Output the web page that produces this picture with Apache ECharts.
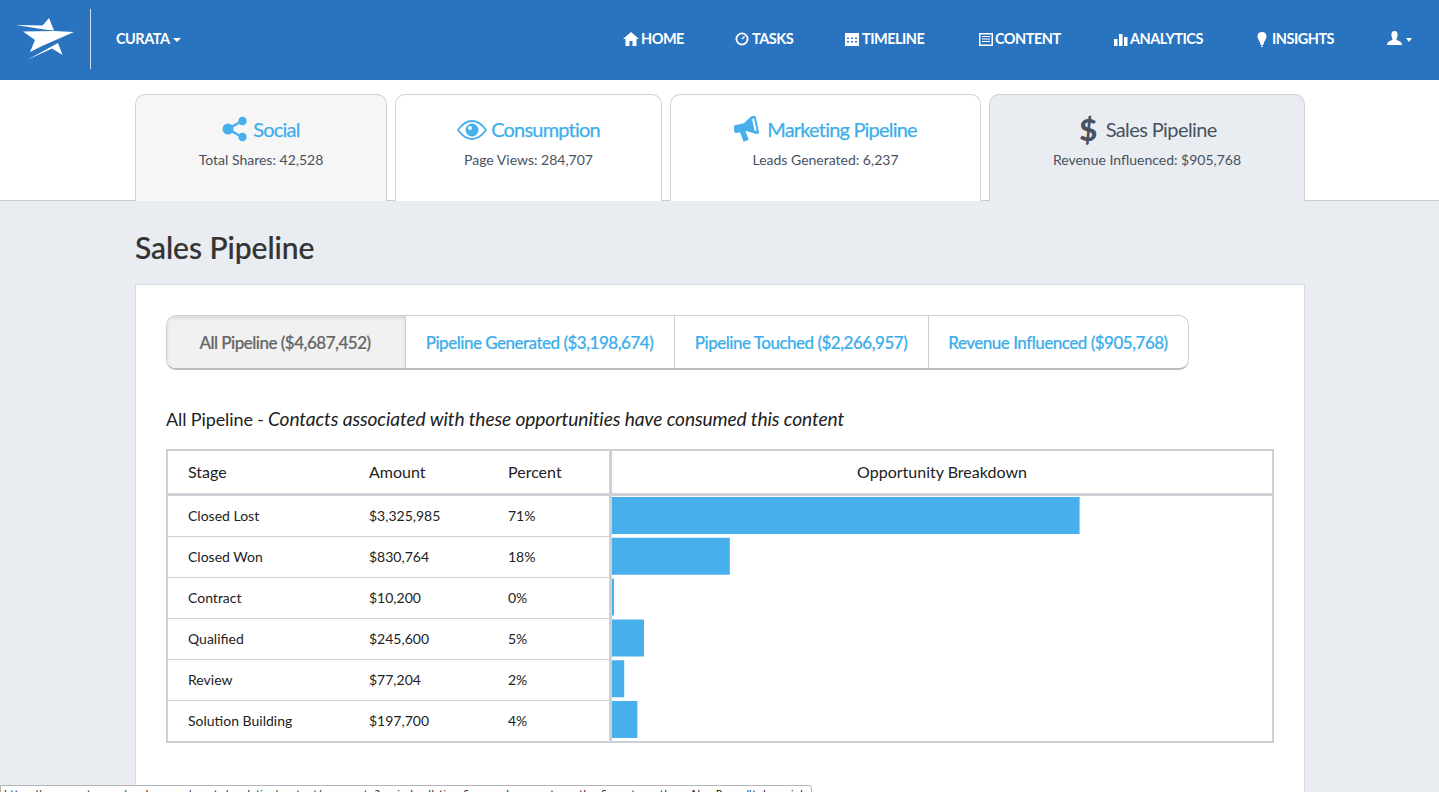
<!DOCTYPE html>
<html>
<head>
<meta charset="utf-8">
<title>Sales Pipeline</title>
<script src="https://cdn.jsdelivr.net/npm/echarts@6/dist/echarts.min.js"></script>
<style>
html, body { margin: 0; padding: 0; width: 1439px; height: 792px; overflow: hidden; background: #fff; font-family: Lato, sans-serif; }
.abs, .abs *, .tab, .tab * { box-sizing: border-box; }
.abs { position: absolute; }
#nav { left: 0; top: 0; width: 1439px; height: 80px; background: #2a73bf; }
.navitem { position: absolute; top: 30px; height: 18px; color: #fff; font-size: 14.5px; font-weight: 700; line-height: 18px; letter-spacing: -0.5px; white-space: nowrap; }
.navitem svg { position: absolute; left: 0; top: 1px; }
.caret { position: absolute; width: 0; height: 0; border-left: 4px solid transparent; border-right: 4px solid transparent; border-top: 4px solid #fff; }
#page { left: 0; top: 200px; width: 1439px; height: 592px; background: #e9ecf1; border-top: 1px solid #ccc; }
.tab { position: absolute; top: 94px; height: 107px; border: 1px solid #d2d2d2; border-bottom: 0; border-radius: 10px 10px 0 0; background: #fff; text-align: center; }
.tab .ttl { position: absolute; top: 21px; left: 0; right: 0; height: 26px; line-height: 26px; font-size: 20px; color: #3eaeea; letter-spacing: -0.8px; -webkit-text-stroke: 0.25px; }
.tab .sub { position: absolute; top: 56px; left: 0; right: 0; line-height: 18px; font-size: 14px; color: #48525f; letter-spacing: 0; }
.tab .ttl svg { vertical-align: -5px; margin-right: 5px; }
#panel { left: 135px; top: 284px; width: 1170px; height: 510px; background: #fff; border: 1px solid #d8dbdf; }
#heading { left: 135px; top: 228px; font-size: 30px; line-height: 38px; color: #333; font-weight: 500; letter-spacing: -0.05px; -webkit-text-stroke: 0.2px; }
#pills { left: 166px; top: 315px; width: 1023px; height: 55px; border: 1px solid #cfcfcf; border-bottom: 2px solid #b9bbbd; border-radius: 10px; background: #fff; overflow: hidden; }
.pill { position: absolute; top: 0; height: 53px; line-height: 53px; text-align: center; font-size: 17px; color: #3eaeea; font-weight: 500; letter-spacing: -0.5px; border-left: 1px solid #cfcfcf; padding-right: 2px; white-space: nowrap; -webkit-text-stroke: 0.2px; }
#subhead { left: 166px; top: 407px; font-size: 18px; line-height: 24px; color: #222; letter-spacing: -0.1px; white-space: nowrap; }
#subhead i { position: absolute; left: 102px; top: 0; font-size: 19.2px; letter-spacing: -0.12px; }
#tbl { left: 166px; top: 449px; width: 1108px; height: 294px; border: 2px solid #cdd0d4; background: #fff; }
.hline { position: absolute; background: #cdd0d4; }
.th { position: absolute; top: 11px; line-height: 20px; font-size: 16px; color: #222; white-space: nowrap; }
#chart { left: 166px; top: 449px; width: 1108px; height: 294px; }
#status { left: 0; top: 785px; width: 812px; height: 12px; background: #fff; border: 1px solid #b5b5b5; border-radius: 0 3px 0 0; font-family: "DejaVu Sans", sans-serif; font-size: 10.4px; line-height: 12px; color: #111; padding: 2px 0 0 3px; white-space: nowrap; overflow: hidden; }
</style>
</head>
<body>

<div class="abs" id="page"></div>

<div class="abs" id="nav">
  <svg style="position:absolute;left:0;top:0" width="90" height="80" viewBox="0 0 90 80">
    <polygon fill="#fff" points="16,25 42,25.5 44,24 49,18 54,30.5 44,29.5"/>
    <polygon fill="#fff" points="23,31.5 54,31 74,32 42,46 30,52 35,40"/>
    <polygon fill="#fff" points="27,60 58,43 62.5,55 52,48.5"/>
  </svg>
  <div style="position:absolute;left:90px;top:9px;width:1px;height:60px;background:#c9dcf0"></div>
  <div class="navitem" style="left:116px">CURATA</div>
  <div class="caret" style="left:173px;top:38px"></div>

  <div class="navitem" style="left:623px;padding-left:18px">HOME
    <svg width="16" height="16" viewBox="0 0 16 16"><path fill="#fff" d="M8 1 L16 8 L13.5 8 L13.5 15 L9.5 15 L9.5 10 L6.5 10 L6.5 15 L2.5 15 L2.5 8 L0 8 Z"/></svg></div>
  <div class="navitem" style="left:735px;padding-left:17px">TASKS
    <svg width="14" height="16" viewBox="0 0 14 16"><circle cx="7" cy="8" r="5.6" fill="none" stroke="#fff" stroke-width="1.8"/><path d="M7 8 L9.5 5.5" stroke="#fff" stroke-width="1.4"/></svg></div>
  <div class="navitem" style="left:845px;padding-left:17px">TIMELINE
    <svg width="14" height="16" viewBox="0 0 14 16"><path fill="#fff" d="M0 2 H14 V15 H0 Z M2 6.5 V8 H4 V6.5 Z M6 6.5 V8 H8 V6.5 Z M10 6.5 V8 H12 V6.5 Z M2 10 V11.5 H4 V10 Z M6 10 V11.5 H8 V10 Z M10 10 V11.5 H12 V10 Z" fill-rule="evenodd"/></svg></div>
  <div class="navitem" style="left:979px;padding-left:16px">CONTENT
    <svg width="14" height="16" viewBox="0 0 14 16"><path fill="#fff" fill-rule="evenodd" d="M0 2 H14 V15 H0 Z M1.5 3.5 V13.5 H12.5 V3.5 Z M3 5 H11 V6 H3 Z M3 7.5 H11 V8.5 H3 Z M3 10 H11 V11 H3 Z"/></svg></div>
  <div class="navitem" style="left:1114px;padding-left:16px">ANALYTICS
    <svg width="14" height="16" viewBox="0 0 14 16"><path fill="#fff" d="M0 8 H3.5 V15 H0 Z M5 3 H8.5 V15 H5 Z M10 6 H13.5 V15 H10 Z"/></svg></div>
  <div class="navitem" style="left:1257px;padding-left:15px">INSIGHTS
    <svg width="10" height="17" viewBox="0 0 10 17"><path fill="#fff" d="M5 1 C8 1 9.5 3 9.5 5.5 C9.5 8 7 10 6.3 14 L3.7 14 C3 10 .5 8 .5 5.5 C.5 3 2 1 5 1 Z"/><rect x="4" y="14.5" width="2" height="1.5" fill="#cfe0f2"/></svg></div>
  <svg style="position:absolute;left:1387px;top:30px" width="15" height="16" viewBox="0 0 15 16"><path fill="#fff" d="M7.5 1 C10 1 10.8 3 10.6 5.5 C10.4 7.5 9.5 8.5 9.3 9.5 C10 10.5 15 11 15 15 L0 15 C0 11 5 10.5 5.7 9.5 C5.5 8.5 4.6 7.5 4.4 5.5 C4.2 3 5 1 7.5 1 Z"/></svg>
  <div class="caret" style="left:1406px;top:38px;border-width:4px 3.5px 0 3.5px"></div>
</div>

<div class="tab" style="left:135px;width:252px;background:#f6f6f6">
  <div class="ttl"><svg width="26" height="26" viewBox="0 0 26 26"><path d="M20 5 L6 13 L20 21" fill="none" stroke="#47b0ec" stroke-width="2.4"/><circle cx="20.5" cy="5" r="4.2" fill="#47b0ec"/><circle cx="6" cy="13" r="5.5" fill="#47b0ec"/><circle cx="20.5" cy="21" r="4.2" fill="#47b0ec"/></svg>Social</div>
  <div class="sub">Total Shares: 42,528</div>
</div>
<div class="tab" style="left:395px;width:267px">
  <div class="ttl"><svg width="30" height="20" viewBox="0 0 30 20" style="vertical-align:-3px;margin-right:4px"><path d="M1 10 C6 3 10 1 15 1 C20 1 24 3 29 10 C24 17 20 19 15 19 C10 19 6 17 1 10 Z" fill="none" stroke="#47b0ec" stroke-width="1.8"/><circle cx="15" cy="10" r="6.5" fill="#47b0ec"/><circle cx="13" cy="8" r="2" fill="#fff"/></svg>Consumption</div>
  <div class="sub">Page Views: 284,707</div>
</div>
<div class="tab" style="left:670px;width:311px">
  <div class="ttl"><svg width="28" height="26" viewBox="0 0 28 26"><g transform="rotate(-12 12 13)"><path fill="#47b0ec" d="M0 9 C0 8 1 7 2 7 L11 7 L21 1 L24 1 L24 20 L21 20 L12 15 L11 15 L12.5 24 L7 25 L5.5 15 L2 15 C1 15 0 14 0 13 Z"/><path fill="#fff" d="M20 5 L22 3.5 L22 17.5 L20 16 Z"/></g></svg>Marketing Pipeline</div>
  <div class="sub">Leads Generated: 6,237</div>
</div>
<div class="tab" style="left:989px;width:316px;background:#e9ecf1;height:108px">
  <div class="ttl" style="color:#48525f;-webkit-text-stroke:0;letter-spacing:-0.6px;padding-left:2px"><span style="font-size:31px;font-weight:900;vertical-align:-4px;margin-right:9px;line-height:26px">$</span>Sales Pipeline</div>
  <div class="sub">Revenue Influenced: $905,768</div>
</div>

<div class="abs" id="heading">Sales Pipeline</div>
<div class="abs" id="panel"></div>

<div class="abs" id="pills">
  <div class="pill" style="left:0;width:238px;background:#f1f1f1;color:#666;border-left:0;box-shadow:inset 0 2px 4px rgba(0,0,0,.12)">All Pipeline ($4,687,452)</div>
  <div class="pill" style="left:238px;width:270px">Pipeline Generated ($3,198,674)</div>
  <div class="pill" style="left:507px;width:255px">Pipeline Touched ($2,266,957)</div>
  <div class="pill" style="left:761px;width:261px">Revenue Influenced ($905,768)</div>
</div>

<div class="abs" id="subhead">All Pipeline - <i>Contacts associated with these opportunities have consumed this content</i></div>

<div class="abs" id="tbl">
  <div class="th" style="left:20px">Stage</div>
  <div class="th" style="left:201px">Amount</div>
  <div class="th" style="left:340px">Percent</div>
  <div class="th" style="left:444px;width:660px;text-align:center">Opportunity Breakdown</div>
  <div class="hline" style="left:0;top:42px;width:1104px;height:3px"></div>
  <div class="hline" style="left:0;top:85px;width:441px;height:1px"></div>
  <div class="hline" style="left:0;top:126px;width:441px;height:1px"></div>
  <div class="hline" style="left:0;top:167px;width:441px;height:1px"></div>
  <div class="hline" style="left:0;top:208px;width:441px;height:1px"></div>
  <div class="hline" style="left:0;top:249px;width:441px;height:1px"></div>
</div>

<div class="abs" id="chart"></div>
<!-- column rule sits over the chart, bars start under it -->
<div class="abs hline" style="left:609px;top:451px;width:3px;height:290px"></div>

<div class="abs" id="status">https://app.curata.com/workspaces/curata/analytics/content/aggregate?period=all_time&amp;group_by=curata_author&amp;curata_author=Alex Perez#tab-social</div>

<script>
var stages = ['Closed Lost', 'Closed Won', 'Contract', 'Qualified', 'Review', 'Solution Building'];
var amounts = ['$3,325,985', '$830,764', '$10,200', '$245,600', '$77,204', '$197,700'];
var percents = [71, 18, 0, 5, 2, 4];

var chartDom = document.getElementById('chart');
var chart = echarts.init(chartDom, null, { renderer: 'svg' });

var option = {
  animation: false,
  backgroundColor: 'transparent',
  grid: { left: 445, top: 46, width: 660, height: 245 },
  xAxis: { type: 'value', min: 0, max: 100, show: false },
  yAxis: {
    type: 'category',
    inverse: true,
    data: stages,
    axisLine: { show: false },
    axisTick: { show: false },
    axisLabel: {
      margin: 423,
      align: 'left',
      padding: [1, 0, 0, 0],
      // stage, amount and percent columns sit in the axis label
      formatter: function (value, index) {
        return '{s|' + value + '}{a|' + amounts[index] + '}{p|' + percents[index] + '%}';
      },
      rich: {
        s: { width: 181, fontFamily: 'Lato', fontSize: 14, color: '#222' },
        a: { width: 139, fontFamily: 'Lato', fontSize: 14, color: '#222' },
        p: { width: 60, fontFamily: 'Lato', fontSize: 14, color: '#222' }
      }
    }
  },
  series: [
    {
      type: 'bar',
      data: percents,
      barWidth: 37,
      barMinHeight: 3,
      silent: true,
      itemStyle: { color: '#47b0ec' }
    }
  ]
};

chart.setOption(option);
</script>
</body>
</html>
